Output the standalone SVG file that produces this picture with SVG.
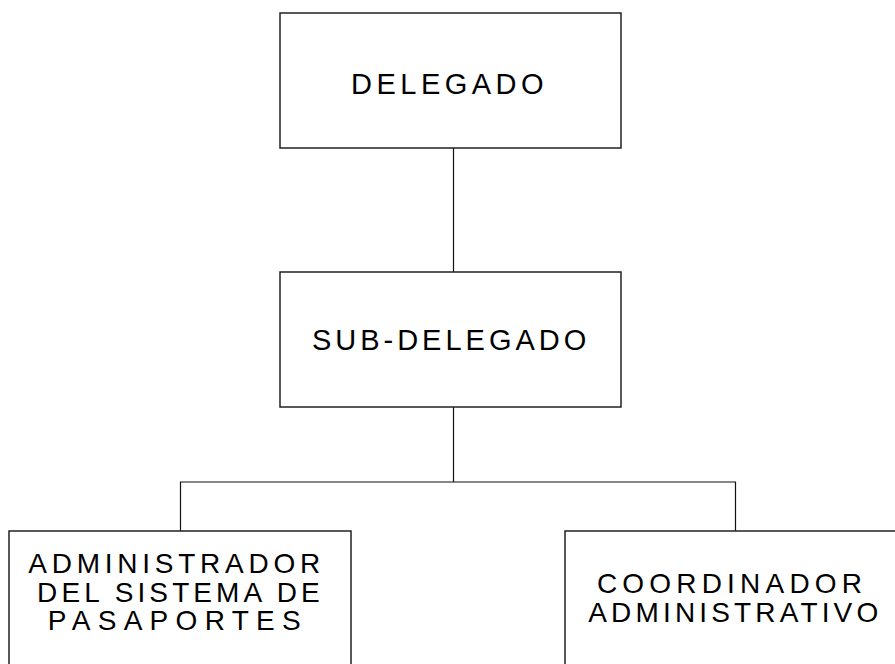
<svg xmlns="http://www.w3.org/2000/svg" width="895" height="664" viewBox="0 0 895 664">
<style>
.box{fill:#fff;stroke:#222;stroke-width:1.5}
.ln{fill:none;stroke:#111;stroke-width:1.2}
text{font-family:"Liberation Sans",Arial,sans-serif;fill:#000}
.t29{font-size:29px}
.t28{font-size:28px}
</style>
<rect width="895" height="664" fill="#fff"/>
<g id="connectors">
<path class="ln" d="M453.5 148V272"/>
<path class="ln" d="M453.5 407V482"/>
<path class="ln" d="M180.5 531V482H735.5V531"/>
</g>
<g id="delegado">
<rect class="box" x="280" y="13" width="341" height="135"/>
<text class="t29" x="351.1" y="93.5" letter-spacing="4.47">DELEGADO</text>
</g>
<g id="subdelegado">
<rect class="box" x="280" y="272" width="341" height="135"/>
<text class="t29" x="311.9" y="350" letter-spacing="4.0">SUB-DELEGADO</text>
</g>
<g id="administrador">
<rect class="box" x="9" y="531" width="342" height="150"/>
<text class="t28" x="28.3" y="573.3" letter-spacing="4.75">ADMINISTRADOR</text>
<text class="t28" x="37.1" y="601.7" letter-spacing="4.1">DEL SISTEMA DE</text>
<text class="t28" x="47.8" y="630" letter-spacing="7.3">PASAPORTES</text>
</g>
<g id="coordinador">
<rect class="box" x="565" y="531" width="345" height="150"/>
<text class="t28" x="596.9" y="592.7" letter-spacing="5.2">COORDINADOR</text>
<text class="t28" x="588.3" y="621.7" letter-spacing="4.15">ADMINISTRATIVO</text>
</g>
</svg>
